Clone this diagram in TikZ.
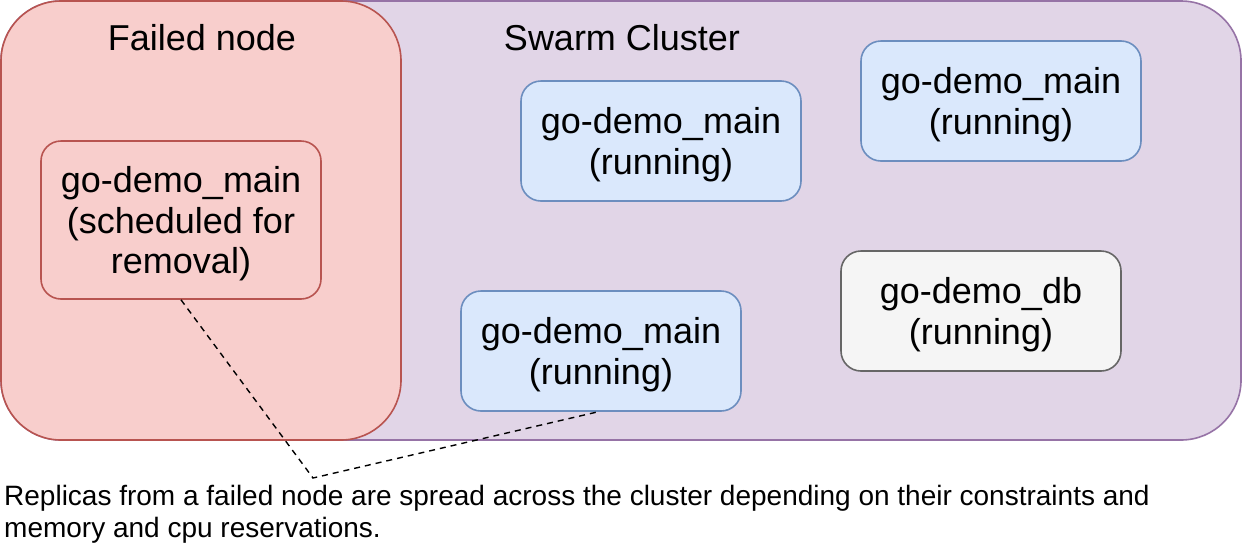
\documentclass[tikz,border=0pt]{standalone}
\usepackage{fontspec}
\setmainfont{Liberation Sans}
\definecolor{purfill}{HTML}{E1D5E7}
\definecolor{purline}{HTML}{9673A6}
\definecolor{redfill}{HTML}{F8CECC}
\definecolor{redline}{HTML}{B85450}
\definecolor{bluefill}{HTML}{DAE8FC}
\definecolor{blueline}{HTML}{6C8EBF}
\definecolor{grayfill}{HTML}{F5F5F5}
\definecolor{grayline}{HTML}{666666}
\tikzset{
  svc/.style={rounded corners=20pt, line width=1.6pt, minimum width=280pt, align=center, inner sep=0pt,
    text depth=0pt, font=\fontsize{36}{40.5}\selectfont},
  redsvc/.style={svc, draw=redline, fill=redfill},
  bluesvc/.style={svc, draw=blueline, fill=bluefill, minimum height=120pt},
  graysvc/.style={svc, draw=grayline, fill=grayfill, minimum height=120pt},
  title/.style={font=\fontsize{36}{40}\selectfont, inner sep=0pt},
  note/.style={dashed, line width=1.4pt, dash pattern=on 6pt off 5pt}
}
\begin{document}
\begin{tikzpicture}[x=1pt,y=-1pt]
\useasboundingbox (0,0) rectangle (1246,544);
\draw[fill=purfill, draw=purline, line width=1.6pt, rounded corners=60pt] (1,1) rectangle (1241,440);
\draw[fill=redfill, draw=redline, line width=1.6pt, rounded corners=60pt] (1,1) rectangle (401,440);
\node[title] (tfail) at (202,38) {Failed node};
\node[title] (tswarm) at (622,38) {Swarm Cluster};
\node[redsvc, minimum height=158pt] (sched) at (181,220) {go-demo\_main\\(scheduled for\\removal)};
\node[bluesvc] (m1) at (661,141) {go-demo\_main\\(running)};
\node[bluesvc] (m2) at (1001,101) {go-demo\_main\\(running)};
\node[graysvc] (db) at (981,311) {go-demo\_db\\(running)};
\node[bluesvc] (m3) at (601,351) {go-demo\_main\\(running)};
\coordinate (knee) at (313,478);
\draw[note] (sched.south) -- (knee) -- ([xshift=-3pt]m3.south);
\node[anchor=base west, align=left, inner sep=0pt, font=\fontsize{28}{32}\selectfont] (txt) at (4,537)
  {Replicas from a failed node are spread across the cluster depending on their constraints and\\memory and cpu reservations.};
\end{tikzpicture}
\end{document}
